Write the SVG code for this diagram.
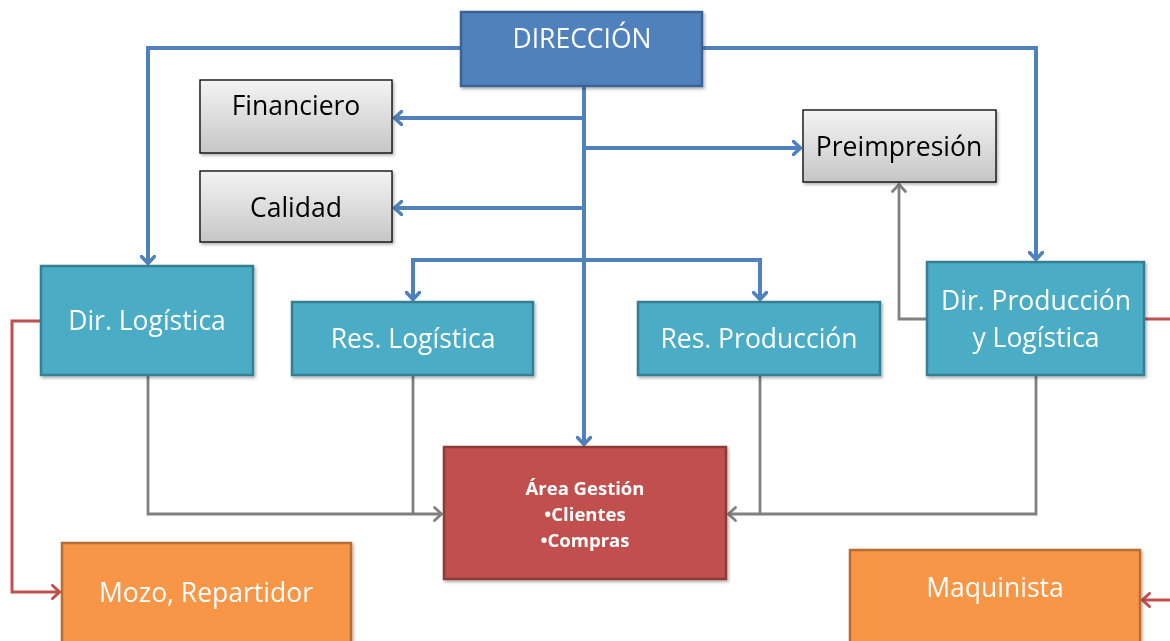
<svg xmlns="http://www.w3.org/2000/svg" width="1170" height="641" viewBox="0 0 1170 641">
<style>
text{font-family:"Open Sans","Noto Sans","Liberation Sans",sans-serif;text-anchor:middle}
.blue{fill:#4F81BD;stroke:#3A6393;stroke-width:2.5}
.teal{fill:#4BACC6;stroke:#367F93;stroke-width:2.5}
.gray{fill:url(#g);stroke:#000;stroke-width:1.3}
.red{fill:#C0504D;stroke:#8E3A38;stroke-width:2.5}
.org{fill:#F79646;stroke:#B86E31;stroke-width:2.5}
.w{fill:#fff;font-size:26.5px}
.k{fill:#000;font-size:26.5px}
.b{fill:#fff;font-size:18.5px;font-weight:bold}
.cb{fill:none;stroke:#4F81BD;stroke-width:4}
.cg{fill:none;stroke:#808080;stroke-width:2.8}
.cr{fill:none;stroke:#C0504D;stroke-width:3}
</style>
<defs>
<linearGradient id="g" x1="0" y1="0" x2="0" y2="1">
<stop offset="0" stop-color="#f4f4f4"/><stop offset="1" stop-color="#c6c6c6"/>
</linearGradient>
<filter id="sh" x="-10%" y="-10%" width="130%" height="130%">
<feDropShadow dx="1.5" dy="2" stdDeviation="1.5" flood-color="#000" flood-opacity="0.3"/>
</filter>
<marker id="ab" viewBox="0 0 10 16" refX="9" refY="8" markerWidth="10" markerHeight="16" markerUnits="userSpaceOnUse" orient="auto">
<path d="M1.5,1.5 L8.5,8 L1.5,14.5" fill="none" stroke="#4F81BD" stroke-width="3.5" stroke-linecap="round"/>
</marker>
<marker id="ag" viewBox="0 0 10 16" refX="9" refY="8" markerWidth="10" markerHeight="16" markerUnits="userSpaceOnUse" orient="auto">
<path d="M1.5,1.5 L8.5,8 L1.5,14.5" fill="none" stroke="#808080" stroke-width="2.8" stroke-linecap="round"/>
</marker>
<marker id="ar" viewBox="0 0 10 16" refX="9" refY="8" markerWidth="10" markerHeight="16" markerUnits="userSpaceOnUse" orient="auto">
<path d="M1.5,1.5 L8.5,8 L1.5,14.5" fill="none" stroke="#C0504D" stroke-width="3" stroke-linecap="round"/>
</marker>
</defs>
<rect width="1170" height="641" fill="#fff"/>
<g id="connectors">
<path class="cb" d="M461,48 H148 V264" marker-end="url(#ab)"/>
<path class="cb" d="M702,48 H1036 V260" marker-end="url(#ab)"/>
<path class="cb" d="M584,86 V445" marker-end="url(#ab)"/>
<path class="cb" d="M584,118 H394" marker-end="url(#ab)"/>
<path class="cb" d="M584,148 H801" marker-end="url(#ab)"/>
<path class="cb" d="M584,208 H394" marker-end="url(#ab)"/>
<path class="cb" d="M584,260 H413 V300" marker-end="url(#ab)"/>
<path class="cb" d="M584,260 H760 V300" marker-end="url(#ab)"/>
<path class="cg" d="M148,375 V514 H442" marker-end="url(#ag)"/>
<path class="cg" d="M413,375 V514"/>
<path class="cg" d="M1036,375 V514 H728" marker-end="url(#ag)"/>
<path class="cg" d="M760,375 V514"/>
<path class="cg" d="M927,319 H899 V184" marker-end="url(#ag)"/>
<path class="cr" d="M41,321 H12 V592 H60" marker-end="url(#ar)"/>
<path class="cr" d="M1144,319 H1170"/>
<path class="cr" d="M1170,600 H1142" marker-end="url(#ar)"/>
</g>
<g id="direccion" filter="url(#sh)"><rect class="blue" x="461" y="12" width="241" height="74"/><text class="w" x="582" y="48">DIRECCIÓN</text></g>
<g id="financiero" filter="url(#sh)"><rect class="gray" x="200" y="80" width="192" height="73"/><text class="k" x="296" y="115">Financiero</text></g>
<g id="calidad" filter="url(#sh)"><rect class="gray" x="200" y="171" width="192" height="71"/><text class="k" x="296" y="217">Calidad</text></g>
<g id="preimpresion" filter="url(#sh)"><rect class="gray" x="803" y="110" width="193" height="72"/><text class="k" x="899" y="156">Preimpresión</text></g>
<g id="dir-logistica" filter="url(#sh)"><rect class="teal" x="41" y="266" width="212" height="109"/><text class="w" x="147" y="330">Dir. Logística</text></g>
<g id="res-logistica" filter="url(#sh)"><rect class="teal" x="292" y="302" width="241" height="73"/><text class="w" x="413" y="348">Res. Logística</text></g>
<g id="res-produccion" filter="url(#sh)"><rect class="teal" x="638" y="302" width="242" height="73"/><text class="w" x="759" y="348">Res. Producción</text></g>
<g id="dir-produccion" filter="url(#sh)"><rect class="teal" x="927" y="262" width="217" height="113"/><text class="w" x="1036" y="310">Dir. Producción</text><text class="w" x="1036" y="347">y Logística</text></g>
<g id="area-gestion" filter="url(#sh)"><rect class="red" x="444" y="447" width="282" height="132"/><text class="b" x="585" y="495">Área Gestión</text><text class="b" x="585" y="521">•Clientes</text><text class="b" x="585" y="547">•Compras</text></g>
<g id="mozo" filter="url(#sh)"><rect class="org" x="62" y="543" width="289" height="105"/><text class="w" x="206" y="602">Mozo, Repartidor</text></g>
<g id="maquinista" filter="url(#sh)"><rect class="org" x="850" y="550" width="290" height="100"/><text class="w" x="995" y="597">Maquinista</text></g>
</svg>
